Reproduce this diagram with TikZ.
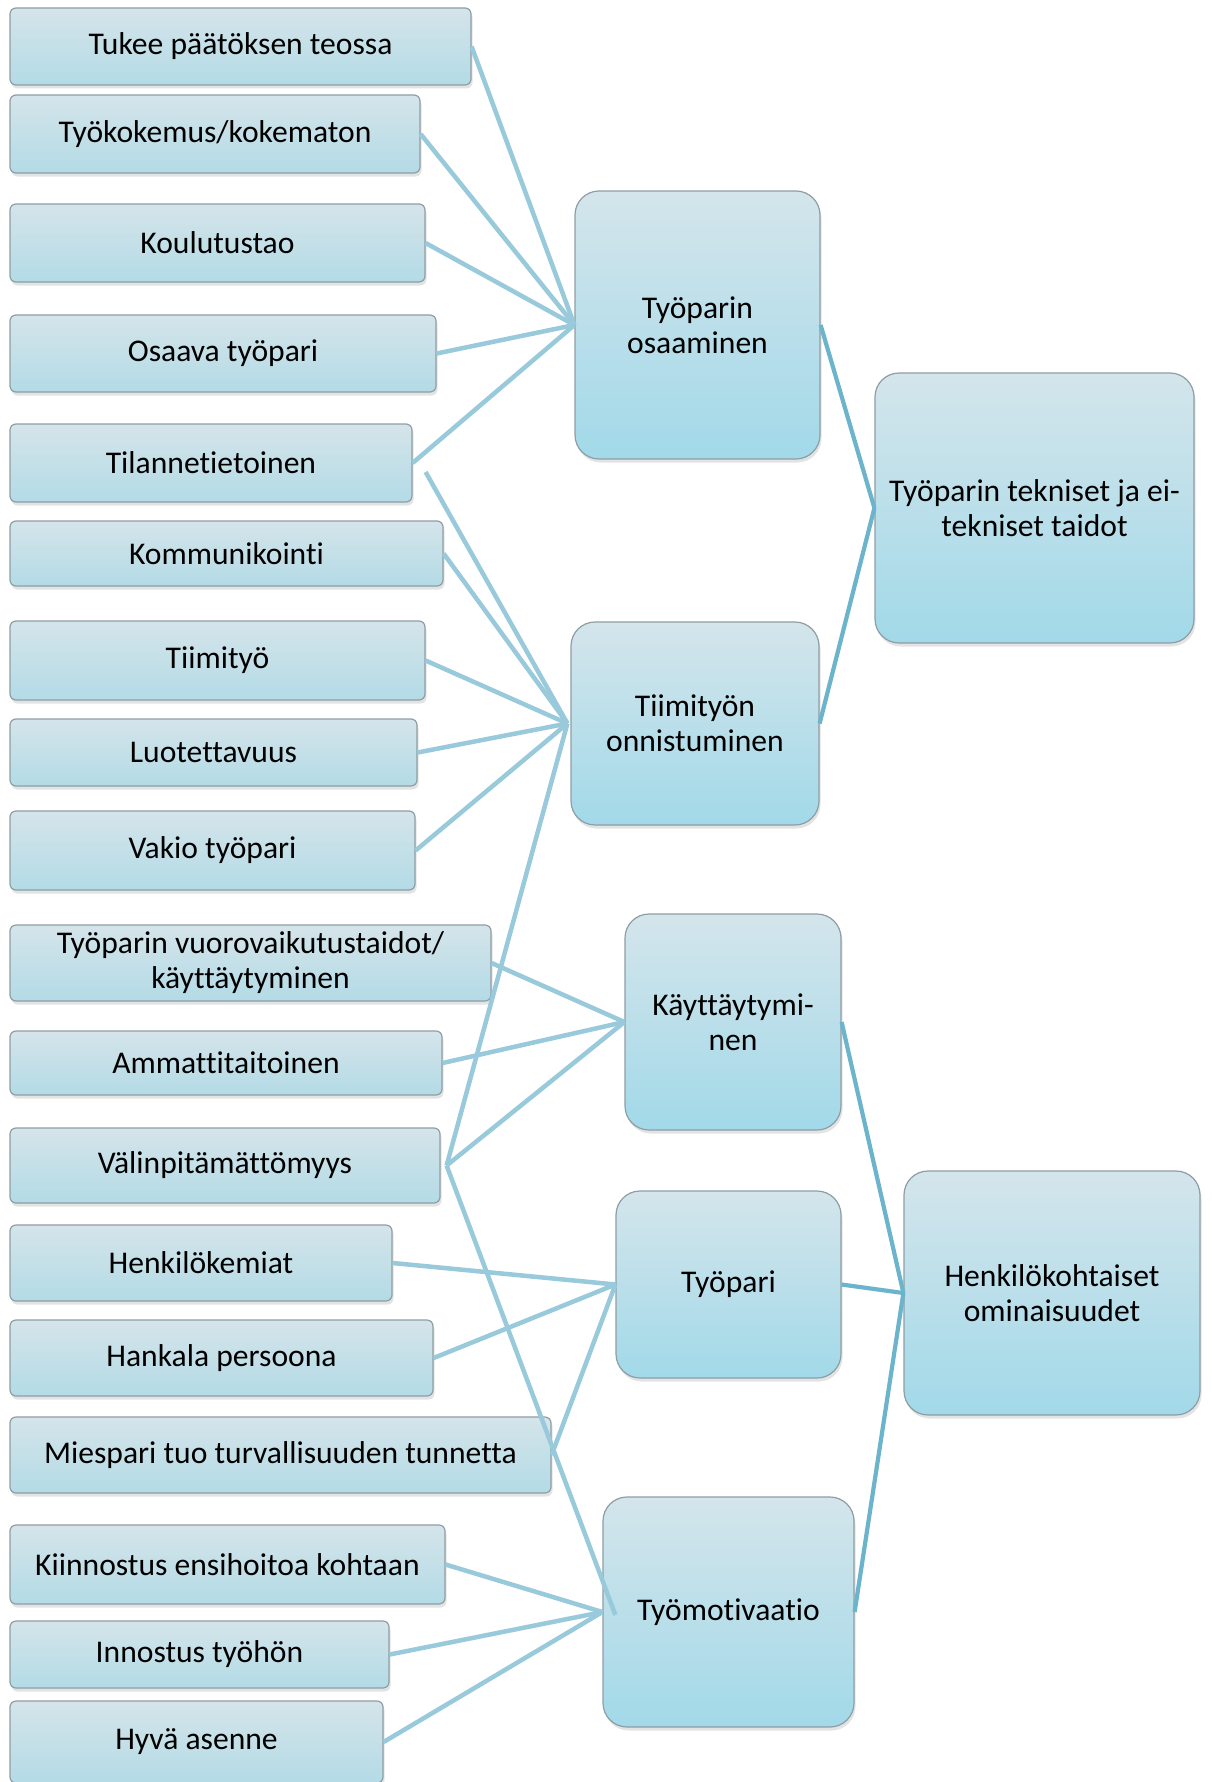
\documentclass[tikz,border=0pt]{standalone}
\usepackage{fontspec}
\setmainfont{Carlito}[Ligatures=NoCommon]
\usetikzlibrary{shadows}
\definecolor{boxtop}{HTML}{D5E4EA}
\definecolor{boxbot}{HTML}{B3DBE6}
\definecolor{midtop}{HTML}{D4E5EB}
\definecolor{midbot}{HTML}{A2D9E9}
\definecolor{boxline}{HTML}{8E9EA5}
\definecolor{leftwire}{HTML}{98CADB}
\definecolor{rightwire}{HTML}{6CB4CB}
\tikzset{
  basebox/.style={draw=boxline, line width=1.2pt, top color=boxtop, bottom color=boxbot,
    align=center, inner sep=0pt, font=\fontsize{31.6}{35}\selectfont,
    drop shadow={opacity=0.22, shadow xshift=1.5pt, shadow yshift=-3.5pt}},
  leaf/.style={basebox, rounded corners=6pt},
  hub/.style={basebox, rounded corners=24pt, top color=midtop, bottom color=midbot},
  wire/.style={draw=leftwire, line width=4.5pt},
  trunk/.style={draw=rightwire, line width=4.2pt},
}
\newcommand{\leafbox}[6]{\node[leaf, minimum width=#4pt, minimum height=#5pt] (#1) at (#2,#3) {#6};}
\newcommand{\hubbox}[6]{\node[hub, minimum width=#4pt, minimum height=#5pt] (#1) at (#2,#3) {#6};}
\begin{document}
\begin{tikzpicture}[x=1pt, y=-1pt]
\useasboundingbox (0,0) rectangle (1211,1782);
\fill[white] (0,0) rectangle (1211,1782);

% attribute boxes on the left
\leafbox{tukee}{240.5}{46.5}{461}{77}{Tukee päätöksen teossa}
\leafbox{tyokok}{215}{134}{410}{78}{Työkokemus/kokematon}
\leafbox{koul}{217.5}{243}{415}{78}{Koulutustao}
\leafbox{osaava}{223}{353.5}{426}{77}{Osaava työpari}
\leafbox{tila}{211}{463}{402}{78}{Tilannetietoinen}
\leafbox{komm}{226.5}{553.5}{433}{65}{Kommunikointi}
\leafbox{tiimi}{217.5}{660.5}{415}{79}{Tiimityö}
\leafbox{luot}{213.5}{752.5}{407}{67}{Luotettavuus}
\leafbox{vakio}{212.5}{850.5}{405}{79}{Vakio työpari}
\leafbox{vuoro}{250.5}{963}{481}{76}{Työparin vuorovaikutustaidot/\\käyttäytyminen}
\leafbox{ammatti}{226}{1063}{432}{64}{Ammattitaitoinen}
\leafbox{valin}{225}{1165.5}{430}{75}{Välinpitämättömyys}
\leafbox{kemia}{201}{1263}{382}{76}{Henkilökemiat}
\leafbox{hankala}{221.5}{1358}{423}{76}{Hankala persoona}
\leafbox{miespari}{280.5}{1455}{541}{76}{Miespari tuo turvallisuuden tunnetta}
\leafbox{kiinn}{227.5}{1564.5}{435}{79}{Kiinnostus ensihoitoa kohtaan}
\leafbox{innostus}{199.5}{1654.5}{379}{67}{Innostus työhön}
\leafbox{hyva}{196.5}{1742}{373}{82}{Hyvä asenne}

% middle category boxes
\hubbox{osaam}{697.5}{325}{245}{268}{Työparin\\osaaminen}
\hubbox{tiimo}{695}{723.5}{248}{203}{Tiimityön\\onnistuminen}
\hubbox{kayt}{733}{1022}{216}{216}{Käyttäytymi-\\nen}
\hubbox{typari}{728.5}{1284.5}{225}{187}{Työpari}
\hubbox{motiv}{728.5}{1612}{251}{230}{Työmotivaatio}

% top-level boxes on the right
\hubbox{tekn}{1034.5}{508}{319}{270}{Työparin tekniset ja ei-\\tekniset taidot}
\hubbox{henk}{1052}{1293}{296}{244}{Henkilökohtaiset\\ominaisuudet}

% free ends of the connectors
\coordinate (tilaout) at ([shift={(13pt,-9pt)}]tila.east);
\coordinate (valout) at ([xshift=6pt]valin.east);
\coordinate (motivin) at ([shift={(13pt,-3pt)}]motiv.west);

% connectors into Työparin osaaminen
\draw[wire] (tukee.east) -- (osaam.west);
\draw[wire] (tyokok.east) -- (osaam.west);
\draw[wire] (koul.east) -- (osaam.west);
\draw[wire] (osaava.east) -- (osaam.west);
\draw[wire] (tila.east) -- (osaam.west);

% connectors into Tiimityön onnistuminen
\draw[wire] (tilaout) -- ([xshift=-3pt]tiimo.west);
\draw[wire] (komm.east) -- ([xshift=-3pt]tiimo.west);
\draw[wire] (tiimi.east) -- ([xshift=-3pt]tiimo.west);
\draw[wire] (luot.east) -- ([xshift=-3pt]tiimo.west);
\draw[wire] (vakio.east) -- ([xshift=-3pt]tiimo.west);
\draw[wire] (valout) -- ([xshift=-3pt]tiimo.west);

% connectors into Käyttäytyminen
\draw[wire] (vuoro.east) -- (kayt.west);
\draw[wire] (ammatti.east) -- (kayt.west);
\draw[wire] (valout) -- (kayt.west);

% connectors into Työpari
\draw[wire] (kemia.east) -- (typari.west);
\draw[wire] (hankala.east) -- (typari.west);
\draw[wire] (miespari.east) -- (typari.west);

% connectors into Työmotivaatio
\draw[wire] (valout) -- (motivin);
\draw[wire] (kiinn.east) -- (motiv.west);
\draw[wire] (innostus.east) -- (motiv.west);
\draw[wire] (hyva.east) -- (motiv.west);

% connectors into the top-level boxes
\draw[trunk] (osaam.east) -- (tekn.west);
\draw[trunk] (tiimo.east) -- (tekn.west);
\draw[trunk] (kayt.east) -- (henk.west);
\draw[trunk] (typari.east) -- (henk.west);
\draw[trunk] (motiv.east) -- (henk.west);
\end{tikzpicture}
\end{document}
